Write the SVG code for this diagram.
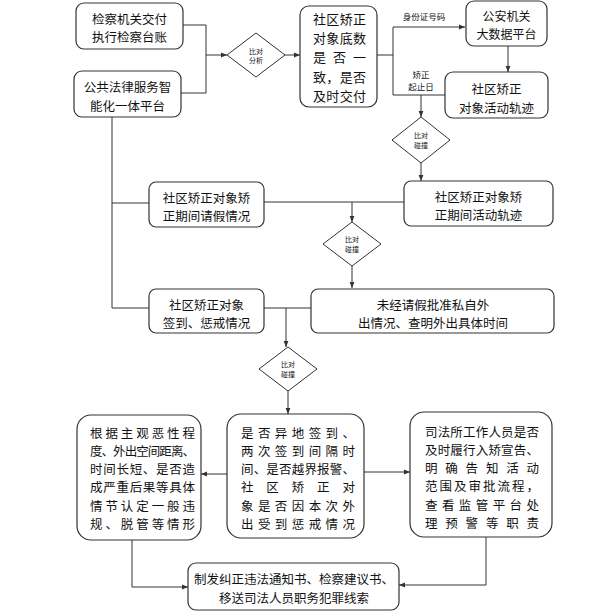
<svg xmlns="http://www.w3.org/2000/svg" width="604" height="613" viewBox="0 0 604 613">
<defs>
<marker id="ah" markerUnits="userSpaceOnUse" markerWidth="6" markerHeight="6" viewBox="0 0 6 6" refX="6" refY="3" orient="auto">
<path d="M0,0.6 L6,3 L0,5.4 z" fill="#333"/>
</marker>
</defs>
<style>
.box{fill:#fff;stroke:#333;stroke-width:1.2}
.dia{fill:#fff;stroke:#333;stroke-width:1}
.ln{fill:none;stroke:#333;stroke-width:1}
.ar{fill:none;stroke:#333;stroke-width:1;marker-end:url(#ah)}
text{font-family:"Noto Sans CJK SC","Noto Sans",sans-serif;fill:#111}
.t{font-size:12.5px;text-anchor:middle;dominant-baseline:central}
.t4{font-size:12px;text-anchor:middle;dominant-baseline:central}
.j{font-size:12.5px;dominant-baseline:central}
.j3{font-size:13px;dominant-baseline:central}
.s{font-size:8.5px;text-anchor:middle;dominant-baseline:central}
.d{font-size:7px;text-anchor:middle;dominant-baseline:central}
</style>
<rect width="604" height="613" fill="#fff"/>
<g id="connectors">
<path class="ln" d="M183 25 H206 V93 H181"/>
<path class="ar" d="M206 55 H227"/>
<path class="ar" d="M285 55 H300"/>
<path class="ln" d="M377 55 H393"/>
<path class="ln" d="M393 27 V95 H445"/>
<path class="ar" d="M393 27 H465"/>
<path class="ar" d="M421 95 V117"/>
<path class="ar" d="M508 46 V72"/>
<path class="ar" d="M421 163 V181"/>
<path class="ln" d="M264 202 H404"/>
<path class="ar" d="M352 202 V222"/>
<path class="ar" d="M352 266 V288"/>
<path class="ln" d="M112 117 V308 H149"/>
<path class="ln" d="M112 203 H149"/>
<path class="ln" d="M264 308 H311"/>
<path class="ar" d="M286 308 V347"/>
<path class="ar" d="M288 391 V414"/>
<path class="ar" d="M227 474 H201"/>
<path class="ar" d="M364 472 H410"/>
<path class="ar" d="M132 540 V587 H188"/>
<path class="ar" d="M486 537 V585 H399"/>
<text class="s" x="424" y="16">身份证号码</text>
<text class="s" x="421" y="74">矫正</text>
<text class="s" x="421" y="85.5">起止日</text>
</g>
<g id="n1"><rect class="box" x="76" y="3" width="107" height="46" rx="8"/>
<text class="t" x="129.5" y="18">检察机关交付</text><text class="t" x="129.5" y="36">执行检察台账</text></g>
<g id="n2"><rect class="box" x="74" y="71" width="107" height="46" rx="8"/>
<text class="t" x="127.5" y="86">公共法律服务智</text><text class="t" x="127.5" y="105">能化一体平台</text></g>
<g id="d1"><polygon class="dia" points="256,33 285,55 256,77 227,55"/>
<text class="d" x="256" y="51">比对</text><text class="d" x="256" y="60">分析</text></g>
<g id="n3"><rect class="box" x="300" y="6" width="77" height="101" rx="9"/>
<text class="j3" x="313" y="18.5" textLength="53" lengthAdjust="spacing">社区矫正</text>
<text class="j3" x="313" y="37.7" textLength="53" lengthAdjust="spacing">对象底数</text>
<text class="j3" x="313" y="56.9" textLength="53" lengthAdjust="spacing">是否一</text>
<text class="j3" x="313" y="76.1" textLength="53" lengthAdjust="spacing">致，是否</text>
<text class="j3" x="313" y="95.3" textLength="53" lengthAdjust="spacing">及时交付</text></g>
<g id="n4"><rect class="box" x="466" y="1" width="81" height="45" rx="8"/>
<text class="t4" x="506.5" y="15.5">公安机关</text><text class="t4" x="506.5" y="33.5">大数据平台</text></g>
<g id="n5"><rect class="box" x="445" y="72" width="103" height="46" rx="8"/>
<text class="t" x="496.5" y="88">社区矫正</text><text class="t" x="496.5" y="107">对象活动轨迹</text></g>
<g id="d2"><polygon class="dia" points="421,117 450,140 421,163 392,140"/>
<text class="d" x="421" y="135">比对</text><text class="d" x="421" y="145">碰撞</text></g>
<g id="n6"><rect class="box" x="149" y="182" width="115" height="45" rx="7"/>
<text class="t" x="206.5" y="197">社区矫正对象矫</text><text class="t" x="206.5" y="215">正期间请假情况</text></g>
<g id="n7"><rect class="box" x="404" y="181" width="149" height="45" rx="7"/>
<text class="t" x="478.5" y="196">社区矫正对象矫</text><text class="t" x="478.5" y="214">正期间活动轨迹</text></g>
<g id="d3"><polygon class="dia" points="352,222 381,244 352,266 323,244"/>
<text class="d" x="352" y="239">比对</text><text class="d" x="352" y="249">碰撞</text></g>
<g id="n8"><rect class="box" x="149" y="289" width="115" height="44" rx="7"/>
<text class="t" x="206.5" y="304">社区矫正对象</text><text class="t" x="206.5" y="322">签到、惩戒情况</text></g>
<g id="n9"><rect class="box" x="311" y="289" width="243" height="44" rx="7"/>
<text class="t" x="433" y="304">未经请假批准私自外</text><text class="t" x="433" y="322">出情况、查明外出具体时间</text></g>
<g id="d4"><polygon class="dia" points="288,347 317,369 288,391 259,369"/>
<text class="d" x="288" y="364">比对</text><text class="d" x="288" y="374">碰撞</text></g>
<g id="n10"><rect class="box" x="77" y="415" width="124" height="125" rx="14"/>
<text class="j" x="90" y="432" textLength="105" lengthAdjust="spacing">根据主观恶性程</text>
<text class="j" x="90" y="450.3" textLength="105" lengthAdjust="spacing">度、外出空间距离、</text>
<text class="j" x="90" y="468.6" textLength="105" lengthAdjust="spacing">时间长短、是否造</text>
<text class="j" x="90" y="486.9" textLength="105" lengthAdjust="spacing">成严重后果等具体</text>
<text class="j" x="90" y="505.2" textLength="105" lengthAdjust="spacing">情节认定一般违</text>
<text class="j" x="90" y="523.5" textLength="105" lengthAdjust="spacing">规、脱管等情形</text></g>
<g id="n11"><rect class="box" x="227" y="414" width="137" height="124" rx="14"/>
<text class="j" x="241" y="432" textLength="114" lengthAdjust="spacing">是否异地签到、</text>
<text class="j" x="241" y="450.3" textLength="114" lengthAdjust="spacing">两次签到间隔时</text>
<text class="j" x="241" y="468.6" textLength="114" lengthAdjust="spacing">间、是否越界报警、</text>
<text class="j" x="241" y="486.9" textLength="114" lengthAdjust="spacing">社区矫正对</text>
<text class="j" x="241" y="505.2" textLength="114" lengthAdjust="spacing">象是否因本次外</text>
<text class="j" x="241" y="523.5" textLength="114" lengthAdjust="spacing">出受到惩戒情况</text></g>
<g id="n12"><rect class="box" x="410" y="412" width="142" height="125" rx="14"/>
<text class="j" x="425" y="431" textLength="114" lengthAdjust="spacing">司法所工作人员是否</text>
<text class="j" x="425" y="449.3" textLength="114" lengthAdjust="spacing">及时履行入矫宣告、</text>
<text class="j" x="425" y="467.6" textLength="114" lengthAdjust="spacing">明确告知活动</text>
<text class="j" x="425" y="485.9" textLength="114" lengthAdjust="spacing">范围及审批流程，</text>
<text class="j" x="425" y="504.2" textLength="114" lengthAdjust="spacing">查看监管平台处</text>
<text class="j" x="425" y="522.5" textLength="114" lengthAdjust="spacing">理预警等职责</text></g>
<g id="n13"><rect class="box" x="188" y="563" width="211" height="47" rx="8"/>
<text class="t" x="294" y="578">制发纠正违法通知书、检察建议书、</text>
<text class="t" x="294" y="597">移送司法人员职务犯罪线索</text></g>
</svg>
